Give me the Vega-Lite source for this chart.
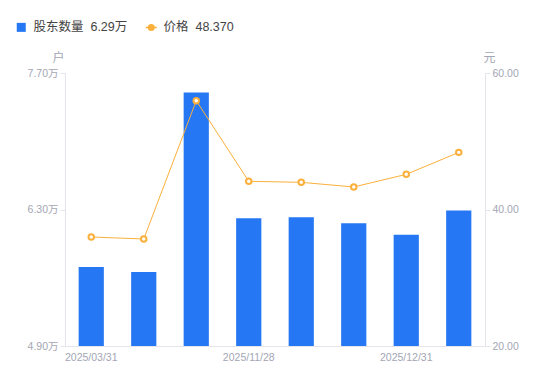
{
  "$schema": "https://vega.github.io/schema/vega-lite/v6.json",
  "width": 420,
  "height": 273,
  "autosize": "none",
  "padding": {"left": 65, "top": 73, "right": 65, "bottom": 35},
  "config": {
    "font": "Liberation Sans, Noto Sans CJK SC",
    "view": {"stroke": null},
    "axis": {
      "domainColor": "#E3E5EA",
      "tickColor": "#E3E5EA",
      "labelColor": "#A3A6B4",
      "labelFontSize": 10.5,
      "titleColor": "#A3A6B4",
      "titleFontSize": 12,
      "titleFontWeight": "normal",
      "grid": false
    }
  },
  "data": {
    "values": [
      {"date": "2025/03/31", "holders": 5.71, "price": 35.97},
      {"date": "2025/06/30", "holders": 5.66, "price": 35.68},
      {"date": "2025/09/30", "holders": 7.50, "price": 55.94},
      {"date": "2025/11/28", "holders": 6.21, "price": 44.13},
      {"date": "2025/12/10", "holders": 6.22, "price": 43.98},
      {"date": "2025/12/19", "holders": 6.16, "price": 43.30},
      {"date": "2025/12/31", "holders": 6.04, "price": 45.15},
      {"date": "2026/01/20", "holders": 6.29, "price": 48.37}
    ]
  },
  "encoding": {
    "x": {
      "field": "date",
      "type": "ordinal",
      "sort": null,
      "title": null,
      "scale": {"paddingInner": 0.52, "paddingOuter": 0.26},
      "axis": {
        "values": ["2025/03/31", "2025/11/28", "2025/12/31"],
        "labelAngle": 0,
        "ticks": false,
        "labelPadding": 6
      }
    }
  },
  "layer": [
    {
      "mark": {"type": "bar"},
      "encoding": {
        "y": {
          "field": "holders",
          "type": "quantitative",
          "scale": {"domain": [4.9, 7.7], "nice": false, "zero": false},
          "axis": {
            "orient": "left",
            "values": [4.9, 6.3, 7.7],
            "labelExpr": "format(datum.value, '.2f') + '万'",
            "tickSize": 5,
            "labelPadding": 2,
            "title": "户",
            "titleAngle": 0,
            "titleX": -7,
            "titleY": -16,
            "titleAlign": "center",
            "titleBaseline": "middle"
          }
        },
        "y2": {"datum": 4.9},
        "color": {
          "datum": "股东数量",
          "type": "nominal",
          "scale": {"domain": ["股东数量", "价格"], "range": ["#2677F3", "#FBB03B"]},
          "legend": {
            "orient": "none",
            "direction": "horizontal",
            "legendX": -50,
            "legendY": -52,
            "title": null,
            "labelFontSize": 12.5,
            "labelColor": "#444444",
            "columnPadding": 14,
            "labelOffset": 6,
            "symbolSize": 81,
            "labelExpr": "datum.label == '股东数量' ? '股东数量\u00a0\u00a06.29万' : '价格\u00a0\u00a048.370'",
            "encode": {
              "symbols": {
                "update": {
                  "shape": {"signal": "datum.value == '价格' ? 'M-1,0H-0.5M0.5,0H1M-0.5,0A0.5,0.5,0,1,0,0.5,0A0.5,0.5,0,1,0,-0.5,0' : 'square'"},
                  "size": {"signal": "datum.value == '价格' ? 121 : 81"},
                  "fill": {"signal": "datum.value == '价格' ? '#ffffff' : '#2677F3'"},
                  "stroke": {"signal": "datum.value == '价格' ? '#FBB03B' : '#2677F3'"},
                  "strokeWidth": {"signal": "datum.value == '价格' ? 1.5 : 0"},
                  "opacity": {"value": 1},
                  "fillOpacity": {"value": 1}
                }
              }
            }
          }
        }
      }
    },
    {
      "layer": [
        {
          "mark": {"type": "line", "strokeWidth": 1},
          "encoding": {
            "y": {"field": "price", "type": "quantitative"},
            "color": {"datum": "价格", "type": "nominal"}
          }
        },
        {
          "mark": {"type": "point", "filled": false, "fill": "#ffffff", "fillOpacity": 1, "size": 30, "strokeWidth": 2, "opacity": 1},
          "encoding": {
            "y": {"field": "price", "type": "quantitative"},
            "color": {"datum": "价格", "type": "nominal"}
          }
        }
      ],
      "encoding": {
        "y": {
          "field": "price",
          "type": "quantitative",
          "scale": {"domain": [20, 60], "nice": false, "zero": false},
          "axis": {
            "orient": "right",
            "values": [20, 40, 60],
            "format": ".2f",
            "tickSize": 5,
            "labelPadding": 2,
            "title": "元",
            "titleAngle": 0,
            "titleX": 4,
            "titleY": -16,
            "titleAlign": "center",
            "titleBaseline": "middle"
          }
        }
      }
    }
  ],
  "resolve": {"scale": {"y": "independent"}}
}
